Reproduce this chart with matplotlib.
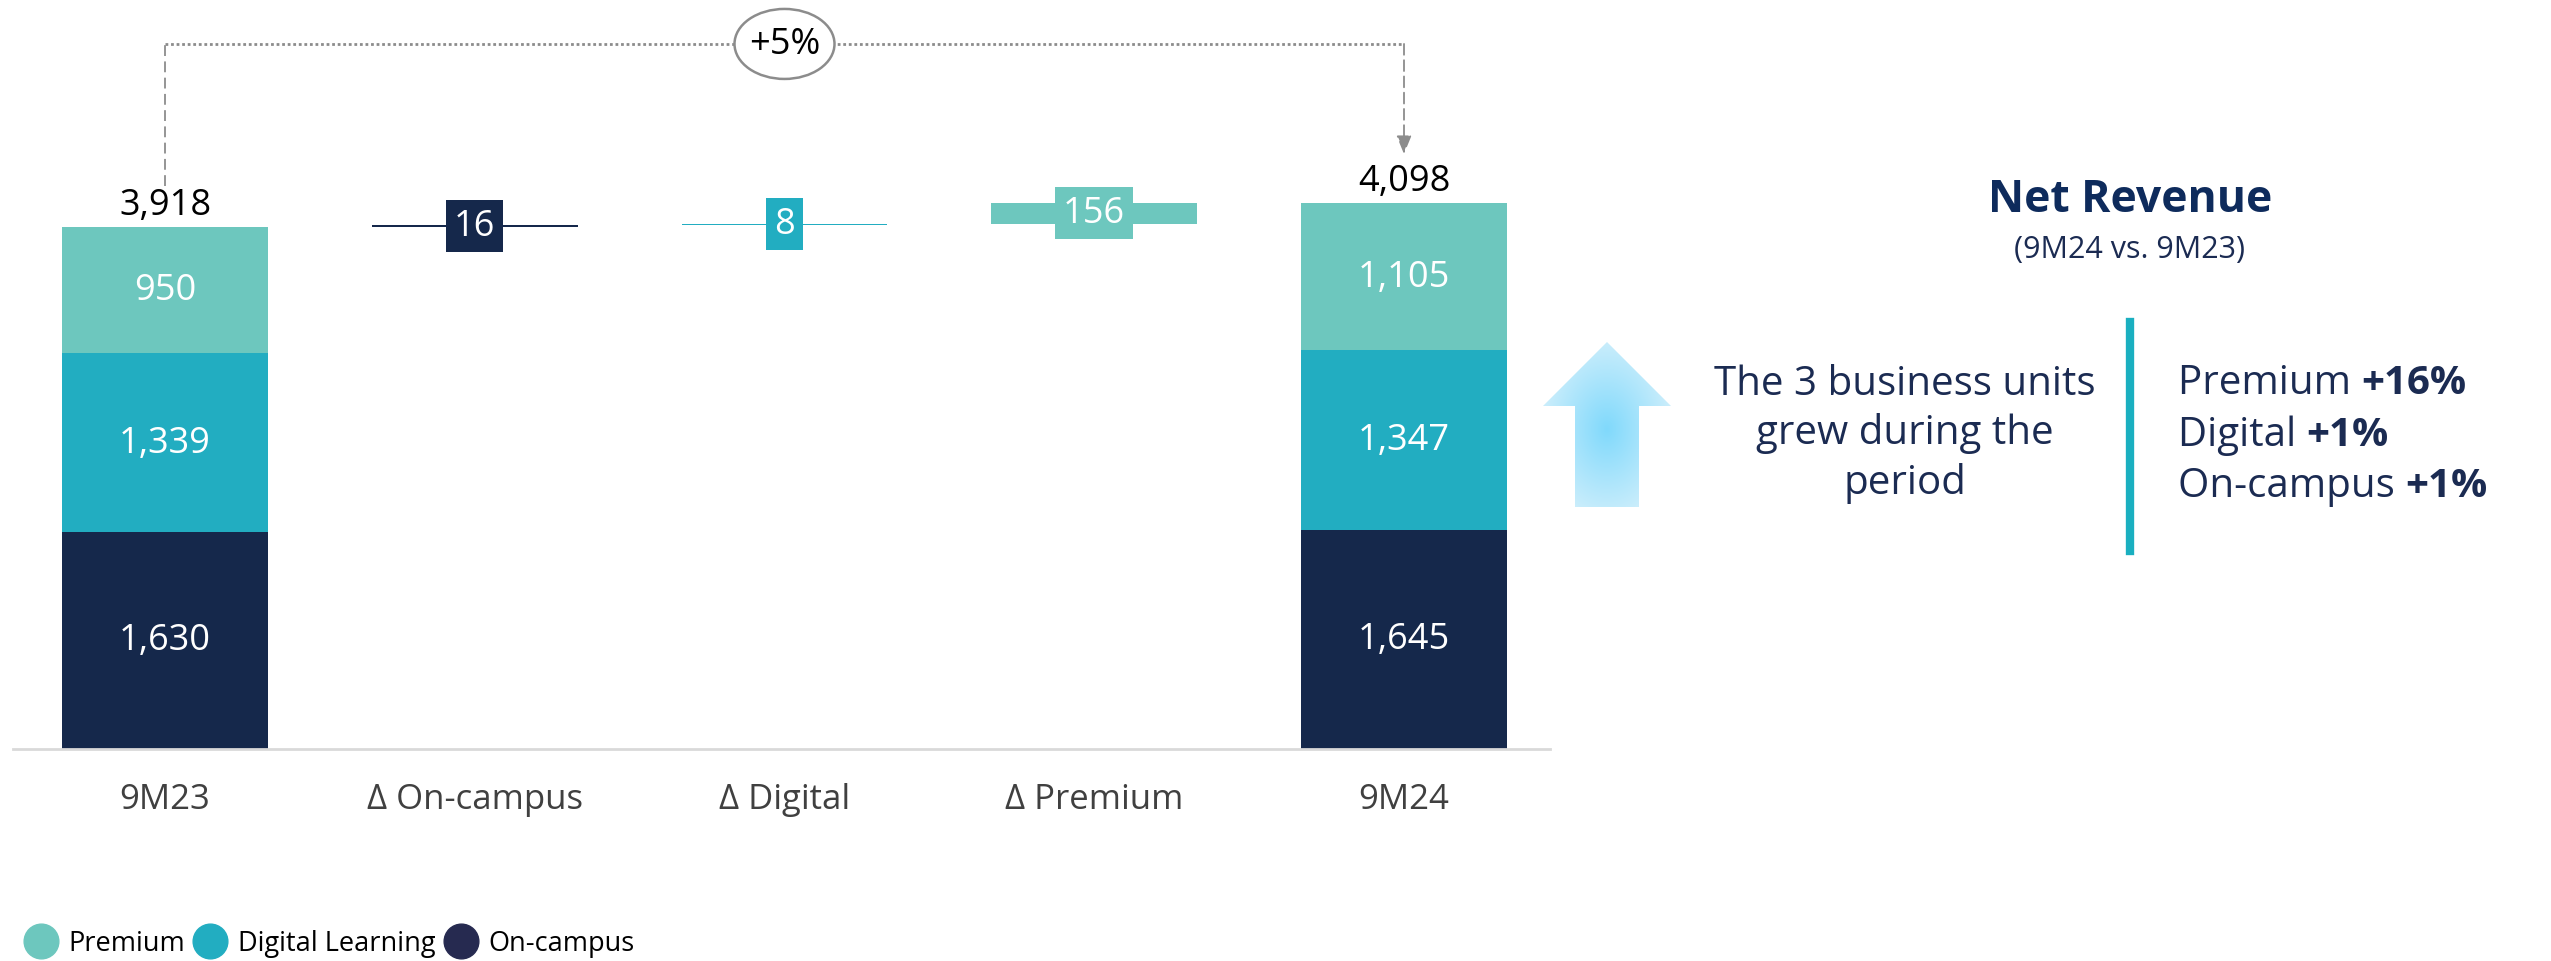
import matplotlib.pyplot as plt
import numpy as np
from matplotlib.lines import Line2D
from matplotlib.patches import Polygon, Ellipse

plt.rcParams['font.family'] = ['Open Sans', 'DejaVu Sans']

W, H, DPI = 2551, 962, 100

# waterfall data (EUR m)
categories = ['9M23', 'Δ On-campus', 'Δ Digital', 'Δ Premium', '9M24']
on_campus = [1630, 1645]
digital = [1339, 1347]
premium = [950, 1105]
totals = [3918, 4098]
deltas = [16, 8, 156]
growth = '+5%'

units = ['Premium', 'Digital', 'On-campus']
unit_growth = ['+16%', '+1%', '+1%']
legend_labels = ['Premium', 'Digital Learning', 'On-campus']

c_prem = '#6DC7BE'
c_dig = '#22ADC1'
c_camp = '#15284B'
navy = '#1B2B52'
grey = '#8C8C8C'

fig = plt.figure(figsize=(W / DPI, H / DPI), dpi=DPI)

def fx(px):
    return px / W

def fy(py):
    return 1 - py / H

# main chart axes, baseline at y=750px, spanning x 13..1550px
ax = fig.add_axes([fx(13), fy(750), (1550 - 13) / W, 750 / H])
step = 309.75
ppu = 0.13323  # pixels per unit
ax.set_xlim((13 - 165) / step, (1550 - 165) / step)
ax.set_ylim(0, 750 / ppu)

bw = 0.665
xs = np.arange(len(categories))
ends = [0, 4]

# stacked totals
ax.bar(ends, on_campus, bw, color=c_camp)
ax.bar(ends, digital, bw, bottom=on_campus, color=c_dig)
ax.bar(ends, premium, bw, bottom=np.add(on_campus, digital), color=c_prem)

for i, x in enumerate(ends):
    b = 0
    for seg in (on_campus[i], digital[i], premium[i]):
        ax.text(x, b + seg / 2, f'{seg:,}', ha='center', va='center',
                color='white', fontsize=26)
        b += seg
    ax.annotate(f'{totals[i]:,}', (x, totals[i]), xytext=(0, 3),
                textcoords='offset points', ha='center', va='bottom',
                fontsize=26, color='black')

# deltas
d_cols = [c_camp, c_dig, c_prem]
bottoms = np.concatenate([[totals[0]], totals[0] + np.cumsum(deltas)[:-1]])
ax.bar(xs[1:4], deltas, bw, bottom=bottoms, color=d_cols)
for x, d, b, c in zip(xs[1:4], deltas, bottoms, d_cols):
    ax.text(x, b + d / 2, str(d), ha='center', va='center', color='white',
            fontsize=26, bbox=dict(boxstyle='square,pad=0.22', fc=c, ec='none'))

# +5% connector
y_top = totals[0] + 1374
ax.plot([0, 0], [totals[0] + 308, y_top], color=grey, lw=1.3,
        ls=(0, (6, 3)), solid_capstyle='butt')
ax.plot([0, 4], [y_top, y_top], color=grey, lw=2, ls=(0, (1, 1)))
ax.annotate('', xy=(4, totals[1] + 368), xytext=(4, y_top),
            arrowprops=dict(arrowstyle='-|>,head_length=1.1,head_width=0.45',
                            color=grey, lw=1.3, ls=(0, (6, 3)),
                            shrinkA=0, shrinkB=0))
ax.add_patch(Ellipse((2, y_top), 100 / step, 70 / ppu, fc='white', ec=grey,
                     lw=1.8, zorder=3))
ax.text(2, y_top, growth, ha='center', va='center', fontsize=26,
        color='black', zorder=4)

ax.set_xticks(xs)
ax.set_xticklabels(categories, fontsize=25, color='#404040')
ax.tick_params(axis='x', length=0, pad=24)
ax.set_yticks([])
for s in ('top', 'left', 'right'):
    ax.spines[s].set_visible(False)
ax.spines['bottom'].set_color('#D9D9D9')
ax.spines['bottom'].set_linewidth(2)

# gradient arrow
ax_ar = fig.add_axes([fx(1543), fy(508), 128 / W, 165 / H])
ax_ar.set_xlim(0, 128)
ax_ar.set_ylim(0, 165)
ax_ar.axis('off')
gx, gy = np.meshgrid(np.linspace(0, 128, 200), np.linspace(0, 165, 260))
r = np.sqrt(((gx - 64) / 70) ** 2 + ((gy - 78) / 95) ** 2).clip(0, 1)
inner = np.array([0x80, 0xD9, 0xFB]) / 255
outer = np.array([0xD0, 0xEF, 0xFC]) / 255
img = inner + (outer - inner) * r[..., None]
im = ax_ar.imshow(img, extent=(0, 128, 0, 165), origin='lower', aspect='auto')
arrow = Polygon([(32, 0), (96, 0), (96, 101), (128, 101), (64, 165),
                 (0, 101), (32, 101)], closed=True, fc='none', ec='none',
                transform=ax_ar.transData)
ax_ar.add_patch(arrow)
im.set_clip_path(arrow)

# right panel
fig.text(fx(2130), fy(200), 'Net Revenue', ha='center', va='center',
         fontsize=32, fontweight='bold', color='#0E2B5C')
fig.text(fx(2130), fy(250), '(9M24 vs. 9M23)', ha='center', va='center',
         fontsize=22, color=navy)
fig.text(fx(1905), fy(434), 'The 3 business units\ngrew during the\nperiod',
         ha='center', va='center', fontsize=29, color=navy, linespacing=1.28)
fig.add_artist(Line2D([fx(2130), fx(2130)], [fy(323), fy(552)],
                      color='#1AAFC0', lw=6))
for i, (u, g) in enumerate(zip(units, unit_growth)):
    t = fig.text(fx(2178), fy(384 + 51.5 * i), u + ' ', ha='left',
                 va='center', fontsize=29, color=navy)
    fig.add_artist(plt.Annotation(g, xy=(1, 0.5), xycoords=t, ha='left',
                                  va='center', fontsize=29, fontweight='bold',
                                  color=navy))

# legend
handles = [Line2D([], [], ls='', marker='o', ms=25, mfc=c, mec=c)
           for c in (c_prem, c_dig, '#262A50')]
fig.legend(handles, legend_labels, loc='center left', ncol=3, frameon=False,
           bbox_to_anchor=(fx(28), fy(944)), fontsize=19.5, handlelength=0.95,
           handletextpad=0.55, columnspacing=0.45, borderpad=0,
           borderaxespad=0)

fig.savefig('out.png', dpi=DPI, facecolor='white')
